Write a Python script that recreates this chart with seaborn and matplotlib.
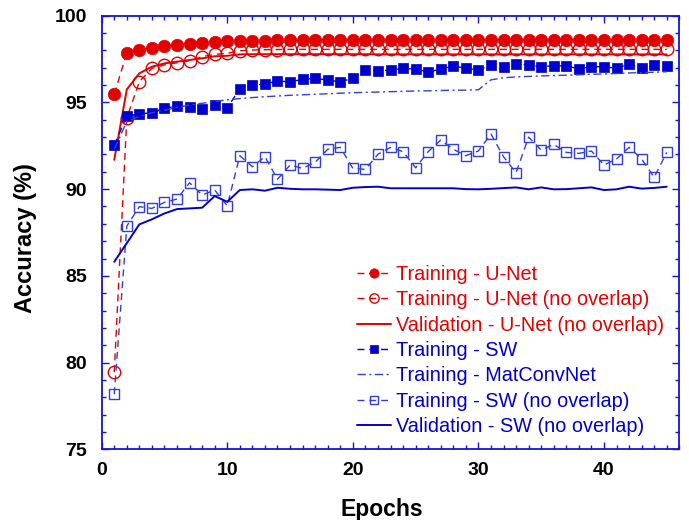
import numpy as np
import matplotlib
matplotlib.use("Agg")
import matplotlib.pyplot as plt
import seaborn as sns

epochs = list(range(1, 46))

train_unet = [95.48, 97.85, 98.05, 98.15, 98.25, 98.33, 98.39, 98.42, 98.47, 98.52,
              98.55, 98.56, 98.57, 98.58, 98.58, 98.58, 98.59, 98.59, 98.59, 98.60,
              98.60, 98.60, 98.60, 98.60, 98.60, 98.60, 98.60, 98.60, 98.60, 98.60,
              98.60, 98.60, 98.60, 98.60, 98.60, 98.60, 98.60, 98.60, 98.60, 98.60,
              98.60, 98.60, 98.60, 98.60, 98.60]

train_unet_no = [79.45, 94.10, 96.19, 96.97, 97.16, 97.29, 97.40, 97.64, 97.77, 97.83,
                 97.98, 98.02, 98.04, 98.05, 98.06, 98.06, 98.06, 98.06, 98.06, 98.06,
                 98.06, 98.06, 98.06, 98.06, 98.06, 98.06, 98.06, 98.06, 98.06, 98.06,
                 98.06, 98.06, 98.06, 98.06, 98.06, 98.06, 98.06, 98.06, 98.06, 98.06,
                 98.06, 98.06, 98.06, 98.06, 98.06]

val_unet_no = [91.69, 95.75, 96.68, 97.06, 97.25, 97.35, 97.45, 97.54, 97.66, 97.69,
               97.77, 97.78, 97.78, 97.78, 97.78, 97.78, 97.78, 97.78, 97.78, 97.78,
               97.78, 97.77, 97.77, 97.77, 97.77, 97.77, 97.77, 97.77, 97.77, 97.77,
               97.77, 97.77, 97.77, 97.77, 97.77, 97.77, 97.77, 97.77, 97.77, 97.77,
               97.77, 97.77, 97.77, 97.77, 97.77]

train_sw = [92.54, 94.22, 94.33, 94.41, 94.66, 94.79, 94.75, 94.62, 94.85, 94.69,
            95.79, 95.99, 96.06, 96.23, 96.19, 96.33, 96.39, 96.29, 96.19, 96.39,
            96.87, 96.83, 96.85, 96.97, 96.91, 96.77, 96.91, 97.10, 96.97, 96.87,
            97.16, 97.02, 97.21, 97.16, 97.06, 97.12, 97.10, 96.94, 97.06, 97.06,
            96.97, 97.20, 97.00, 97.16, 97.12]

train_matconvnet = [92.30, 93.90, 94.20, 94.40, 94.55, 94.70, 94.85, 94.95, 95.05, 95.15,
                    95.22, 95.28, 95.33, 95.37, 95.41, 95.44, 95.47, 95.50, 95.53, 95.56,
                    95.58, 95.60, 95.62, 95.64, 95.66, 95.67, 95.69, 95.70, 95.71, 95.73,
                    96.30, 96.42, 96.47, 96.50, 96.53, 96.55, 96.57, 96.59, 96.62, 96.64,
                    96.67, 96.70, 96.72, 96.74, 96.77]

train_sw_no = [78.18, 87.87, 88.99, 88.89, 89.24, 89.43, 90.37, 89.66, 89.95, 89.04,
               91.93, 91.29, 91.87, 90.57, 91.39, 91.20, 91.55, 92.30, 92.41, 91.20,
               91.14, 92.01, 92.41, 92.16, 91.23, 92.16, 92.83, 92.30, 91.93, 92.20,
               93.18, 91.87, 90.95, 93.00, 92.25, 92.58, 92.12, 92.06, 92.20, 91.39,
               91.74, 92.41, 91.74, 90.68, 92.12]

val_sw_no = [85.81, 86.89, 87.97, 88.26, 88.60, 88.85, 88.89, 88.93, 89.60, 89.27,
             89.95, 89.99, 89.91, 90.08, 90.02, 89.99, 89.99, 89.97, 89.95, 90.08,
             90.12, 90.14, 90.05, 90.05, 90.05, 90.05, 90.05, 90.05, 90.00, 89.99,
             90.02, 90.06, 90.10, 89.99, 90.10, 89.99, 90.00, 90.05, 90.10, 89.95,
             89.99, 90.14, 90.03, 90.07, 90.14]

labels = ["Training - U-Net", "Training - U-Net (no overlap)", "Validation - U-Net (no overlap)",
          "Training - SW", "Training - MatConvNet", "Training - SW (no overlap)",
          "Validation - SW (no overlap)"]

RED = "#E30000"
BLUE = "#0000CC"
BLUE_LIGHT = "#2F40DA"
AXIS_BLUE = "#1515D0"

sns.set_theme(style="white")
plt.rcParams["font.family"] = ["Liberation Sans", "DejaVu Sans"]
plt.rcParams["text.color"] = "black"
plt.rcParams["axes.labelcolor"] = "black"

fig = plt.figure(figsize=(6.89, 5.20), dpi=100)
ax = fig.add_axes([101.7 / 689, 1 - 449.3 / 520, 577.6 / 689, 433.6 / 520])

dash = (0, (5, 3.5))
dashdot = (0, (6, 2.5, 1.5, 2.5))

sns.lineplot(x=epochs, y=train_unet, ax=ax, color=RED, linestyle=dash, lw=1.0,
             marker="o", markersize=9, markerfacecolor=RED, markeredgecolor=RED,
             markeredgewidth=0.5, label=labels[0])
sns.lineplot(x=epochs, y=train_unet_no, ax=ax, color=RED, linestyle=dash, lw=1.0,
             marker="o", markersize=9, markerfacecolor="none", markeredgecolor=RED,
             markeredgewidth=1.0, label=labels[1])
sns.lineplot(x=epochs, y=val_unet_no, ax=ax, color=RED, linestyle="-", lw=1.4,
             label=labels[2])
sns.lineplot(x=epochs, y=train_sw, ax=ax, color=BLUE, linestyle=dash, lw=1.0,
             marker="s", markersize=7, markerfacecolor=BLUE, markeredgecolor=BLUE,
             markeredgewidth=0.5, label=labels[3])
sns.lineplot(x=epochs, y=train_matconvnet, ax=ax, color=BLUE_LIGHT, linestyle=dashdot,
             lw=1.0, label=labels[4])
sns.lineplot(x=epochs, y=train_sw_no, ax=ax, color=BLUE_LIGHT, linestyle=dash, lw=1.0,
             marker="s", markersize=7, markerfacecolor="none", markeredgecolor=BLUE_LIGHT,
             markeredgewidth=1.0, label=labels[5])
sns.lineplot(x=epochs, y=val_sw_no, ax=ax, color=BLUE, linestyle="-", lw=1.4,
             label=labels[6])

ax.set_xlim(0, 46)
ax.set_ylim(75, 100)
ax.set_xticks([0, 10, 20, 30, 40])
ax.set_xticks(np.arange(0, 47, 1), minor=True)
ax.set_yticks([75, 80, 85, 90, 95, 100])
ax.set_yticks(np.arange(75, 101, 1), minor=True)

for sp in ax.spines.values():
    sp.set_color(AXIS_BLUE)
    sp.set_linewidth(1.3)

ax.tick_params(which="both", direction="in", top=True, right=True, bottom=True, left=True,
               color=AXIS_BLUE, labelcolor="black", width=1.0)
ax.tick_params(which="major", length=5, labelsize=14)
ax.tick_params(axis="y", which="major", pad=10.5)
ax.tick_params(axis="x", which="major", pad=9.5)
ax.tick_params(which="minor", length=2.8)
for t in ax.get_xticklabels() + ax.get_yticklabels():
    t.set_fontweight("bold")
    t.set_color("black")

ax.set_xlabel("Epochs", fontsize=16.5, fontweight="bold", color="black")
ax.set_ylabel("Accuracy (%)", fontsize=17, fontweight="bold", color="black")
ax.xaxis.set_label_coords(0.485, -0.112)
ax.yaxis.set_label_coords(-0.112, 0.487)

handles, labs = ax.get_legend_handles_labels()
leg = ax.legend(handles, labs, loc="upper left",
                bbox_to_anchor=((357 - 101.7) / 577.6, (449.3 - 265) / 433.6),
                frameon=False, fontsize=14.3, handlelength=1.7, handletextpad=0.25,
                labelspacing=0.32, borderpad=0, borderaxespad=0, markerscale=0.75)
text_colors = [RED, RED, RED, BLUE, BLUE, BLUE, BLUE]
for txt, c in zip(leg.get_texts(), text_colors):
    txt.set_color(c)

fig.savefig("out.png", dpi=100)
